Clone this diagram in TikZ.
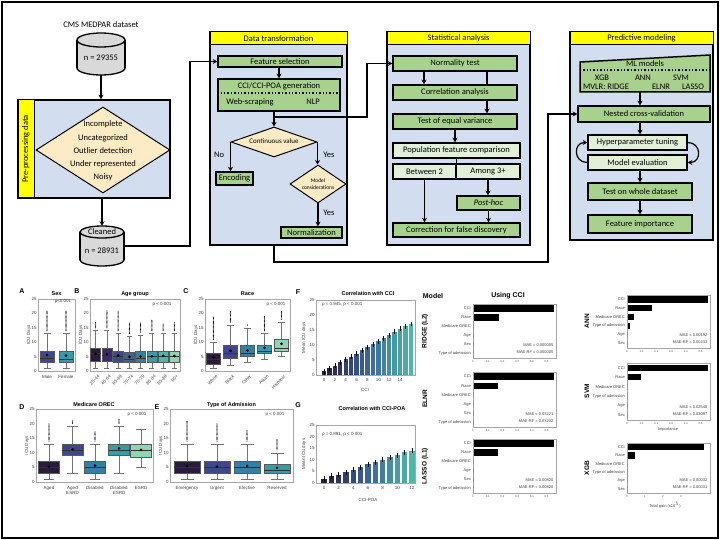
\documentclass[tikz,border=0pt]{standalone}
\usepackage{fontspec}
\setmainfont{Carlito}
\newfontfamily\chartfont{Liberation Sans}
\usetikzlibrary{arrows.meta, positioning, shapes.geometric, calc}
\definecolor{panelblue}{HTML}{D2DDEF}
\definecolor{headyellow}{HTML}{FFFF00}
\definecolor{boxgreen}{HTML}{A9D18E}
\definecolor{palegreen}{HTML}{E2F0D9}
\definecolor{diafill}{HTML}{FDEBC6}
\definecolor{cylgray}{HTML}{D9D9D9}
\definecolor{axisgray}{HTML}{A6A6A6}
\definecolor{mk1}{HTML}{2A1B3A}
\definecolor{mk2}{HTML}{3A2D62}
\definecolor{mk3}{HTML}{3F468C}
\definecolor{mk4}{HTML}{3A639C}
\definecolor{mk5}{HTML}{357FA5}
\definecolor{mk6}{HTML}{369CAA}
\definecolor{mk7}{HTML}{4DB8A9}
\definecolor{mk8}{HTML}{8ED5B6}

% database cylinder: name, x, top, bottom, half width, cap radius
\newcommand{\dbcyl}[6]{%
  \filldraw[fill=cylgray, line width=1.3pt] (#2,#4-#6) ellipse[x radius=#5pt, y radius=#6pt];
  \fill[cylgray] (#2-#5,#3+#6) rectangle (#2+#5,#4-#6);
  \draw[line width=1.3pt] (#2-#5,#3+#6) -- (#2-#5,#4-#6) (#2+#5,#3+#6) -- (#2+#5,#4-#6);
  \filldraw[fill=cylgray, line width=1.3pt] (#2,#3+#6) ellipse[x radius=#5pt, y radius=#6pt];
  \node[inner sep=0pt, minimum width={2*#5}, minimum height={#4-#3}] (#1) at (#2,{(#3+#4)/2}) {};
}
% box plot: x, low, q1, median, q3, high, mean, top outlier, colour
\newcommand{\boxwhisk}[9]{%
  \draw[black!55, line width=0.5pt] (#1,#2) -- (#1,#3) (#1,#5) -- (#1,#6);
  \draw[black!55, line width=0.5pt] ({#1-0.5*\bhw},#2) -- ({#1+0.5*\bhw},#2) ({#1-0.5*\bhw},#6) -- ({#1+0.5*\bhw},#6);
  \filldraw[fill=#9, draw=black!65, line width=0.5pt] ({#1-\bhw},#3) rectangle ({#1+\bhw},#5);
  \draw[black!80, line width=0.5pt] ({#1-\bhw},#4) -- ({#1+\bhw},#4);
  \ifdim #8pt>#6pt
    \pgfmathtruncatemacro\nout{(#8-#6-1)/0.45}
    \foreach \k in {0,...,\nout} \fill ({#1},{#6+1+0.45*\k}) circle[radius=0.6pt];
  \fi
  \fill (#1,#7) circle[radius=1.5pt];
}
% ICU days axes: left, right, prefix
\newcommand{\icuaxes}[3]{%
  \draw[frame] (#1,0) rectangle (#2,25);
  \foreach \t in {0,5,...,25} \node[tick, anchor=east] (#3y\t) at (#1-0.3,\t) {\t};
  \node[tick, rotate=90] (#3lab) at (#1-9,12.5) {ICU Days};
}
% importance chart: name, left, top, bottom, rows, bar lengths, MAE, MAE-RF, ticks
\newcommand{\impchart}[9]{%
  \draw[frame] (#2,#3) rectangle (#2+83,#4);
  \foreach \lbl [count=\i from 0] in {#5}
    \node[rowlbl, anchor=east] (#1r\i) at (#2-1.5,{#3+(#4-#3)*(\i+0.5)/6}) {\lbl};
  \foreach \len [count=\i from 0] in {#6}
    \fill ({#2+0.5},{#3+(#4-#3)*(\i+0.5)/6-3.2}) rectangle ++(\len,6.4);
  \node[rowlbl, anchor=east] (#1mae) at (#2+81,#4-13) {MAE = #7};
  \node[rowlbl, anchor=east] (#1rf) at (#2+81,#4-6) {MAE-RF = #8};
  \foreach \p/\t [count=\j] in #9
    \node[smalltick] (#1t\j) at (#2+\p,#4+3.5) {\t};
}
\def\fracticks{0/0,14.7/0.1,29.4/0.2,44.1/0.3,58.8/0.4,73.5/0.5}
\def\gainticks{0/0,18/1,36/2,54/3}

\begin{document}
\begin{tikzpicture}[x=1pt, y=-1pt, font=\fontsize{8.5}{10}\selectfont,
    panel/.style={draw, line width=1.5pt, fill=panelblue, inner sep=0pt},
    header/.style={draw, line width=1pt, fill=headyellow, inner sep=0pt},
    gbox/.style={draw, line width=1.5pt, fill=boxgreen, inner sep=0pt},
    pbox/.style={gbox, fill=palegreen},
    choice/.style={diamond, draw, line width=1pt, fill=diafill, inner sep=0pt},
    txt/.style={inner sep=0pt},
    link/.style={line width=1.2pt, -{Stealth[length=4.5pt, width=5pt]}},
    wire/.style={line width=1.2pt},
    frame/.style={draw=axisgray, line width=0.5pt},
    tick/.style={font=\chartfont\fontsize{4.5}{5}\selectfont, text=black!75, inner sep=0.8pt},
    rowlbl/.style={font=\chartfont\fontsize{4}{4.5}\selectfont, text=black!75, inner sep=0.5pt},
    smalltick/.style={font=\chartfont\fontsize{2.8}{3}\selectfont, text=black!70, inner sep=0pt},
    ctitle/.style={font=\chartfont\bfseries\fontsize{5.5}{6}\selectfont, inner sep=0pt},
    letter/.style={font=\chartfont\bfseries\fontsize{7}{8}\selectfont, inner sep=0pt},
    model/.style={font=\chartfont\bfseries\fontsize{6.5}{7}\selectfont, inner sep=0pt, rotate=90},
  ]
  \useasboundingbox (0,0) rectangle (720,540);
  \fill[white] (0,0) rectangle (720,540);
  \draw[line width=2.5pt] (2,2) rectangle (718,538);

  % pre-processing
  \node[txt] (medpar) at (101,25) {CMS MEDPAR dataset};
  \dbcyl{srcdb}{101}{33}{75}{24}{7}
  \node[txt] (srcn) at (101,58) {n = 29355};
  \node[panel, minimum width=152pt, minimum height=98pt] (prepanel) at (94,149) {};
  \node[header, minimum width=16pt, minimum height=98pt] (prestrip) at (26,149) {};
  \node[txt, rotate=90] (pretitle) at (26,149) {Pre-processing data};
  \node[choice, minimum width=134pt, minimum height=86pt] (quality) at (103,150) {};
  \node[txt, align=center, font=\fontsize{8.5}{13.2}\selectfont] (qualtxt) at (103,151)
       {Incomplete\\Uncategorized\\Outlier detection\\Under represented\\Noisy};
  \dbcyl{cleandb}{102}{226}{266}{22}{6}
  \node[txt] (cleantxt) at (102,232) {Cleaned};
  \node[txt] (cleann) at (102,251) {n = 28931};
  \draw[link] (srcdb.south) -- (srcdb.south |- prepanel.north);
  \draw[link] (prepanel.south -| cleandb) -- (cleandb.north);

  % data transformation
  \node[panel, minimum width=137pt, minimum height=213pt] (dtpanel) at (278.5,138.5) {};
  \node[header, minimum width=137pt, minimum height=13pt] (dthead) at (278.5,38.5) {Data transformation};
  \node[gbox, minimum width=124pt, minimum height=11pt] (featsel) at (280,61.5) {Feature selection};
  \node[gbox, minimum width=122pt, minimum height=32pt] (ccibox) at (279,95) {};
  \node[txt] (ccitxt) at (279,86) {CCI/CCI-POA generation};
  \draw[dotted, line width=1.4pt] ([yshift=2pt]ccibox.west) -- ([yshift=2pt]ccibox.east);
  \node[txt] (webtxt) at (250,102) {Web-scraping};
  \node[txt] (nlptxt) at (313,102) {NLP};
  \node[choice, minimum width=86pt, minimum height=30pt] (contval) at (274,142) {};
  \node[txt, font=\fontsize{7}{8}\selectfont] (contvaltxt) at (274,141) {Continuous value};
  \node[gbox, minimum width=37pt, minimum height=13pt] (encoding) at (234.5,178.5) {Encoding};
  \node[choice, minimum width=56pt, minimum height=38pt] (modelcons) at (318,184) {};
  \node[txt, align=center, font=\fontsize{5.5}{6.5}\selectfont] (modelconstxt) at (318,184) {Model\\considerations};
  \node[gbox, minimum width=61pt, minimum height=11pt] (normalize) at (311.5,232.5) {Normalization};
  \node[txt] (nolbl) at (219,155) {No};
  \node[txt] (yeslbl) at (329,155) {Yes};
  \node[txt] (yes2lbl) at (329,213) {Yes};
  \draw[link] (featsel.south -| ccibox) -- (ccibox.north);
  \coordinate (ccisplit) at (274,117);
  \draw[wire] (ccibox.south -| contval) -- (ccisplit);
  \draw[link] (ccisplit) -- (contval.north);
  \draw[link] (contval.west) -- (contval.west |- encoding.north);
  \draw[link] (contval.east) -- (contval.east |- modelcons.north);
  \draw[link] (modelcons.south) -- (modelcons.south |- normalize.north);

  % statistical analysis
  \node[panel, minimum width=143pt, minimum height=213pt] (stpanel) at (458.5,138.5) {};
  \node[header, minimum width=143pt, minimum height=13pt] (sthead) at (458.5,38.5) {Statistical analysis};
  \node[gbox, minimum width=124pt, minimum height=15pt] (normal) at (455,63.5) {Normality test};
  \node[gbox, minimum width=124pt, minimum height=15pt] (corr) at (455,92.5) {Correlation analysis};
  \node[gbox, minimum width=124pt, minimum height=15pt] (eqvar) at (455,121.5) {Test of equal variance};
  \node[pbox, minimum width=127pt, minimum height=15pt] (popcomp) at (456.5,150.5) {Population feature comparison};
  \node[pbox, minimum width=63pt, minimum height=15pt] (between) at (424.5,171.5) {Between 2};
  \node[pbox, minimum width=64pt, minimum height=15pt] (among) at (488,171.5) {Among 3+};
  \node[gbox, minimum width=63pt, minimum height=14pt] (posthoc) at (488.5,203) {\textit{Post-hoc}};
  \node[gbox, minimum width=127pt, minimum height=14pt] (fdr) at (456.5,230) {Correction for false discovery};
  \draw[link] ([xshift=-31pt]normal.south) -- ([xshift=-31pt]corr.north);
  \draw[wire] ([xshift=32pt]normal.south) -- ([xshift=32pt]corr.north);
  \draw[link] ([xshift=32pt]corr.south) -- ([xshift=32pt]eqvar.north);
  \draw[link] (eqvar.south) -- (eqvar.south |- popcomp.north);
  \draw[wire] (popcomp.south -| between.east) -- (between.south east);
  \draw[link] (between.south) -- (between.south |- fdr.north);
  \draw[link] (among.south) -- (among.south |- posthoc.north);
  \draw[link] (posthoc.south) -- (posthoc.south |- fdr.north);

  % predictive modeling
  \node[panel, minimum width=143pt, minimum height=208pt] (pmpanel) at (641.5,136) {};
  \node[header, minimum width=143pt, minimum height=13pt] (pmhead) at (641.5,38.5) {Predictive modeling};
  \filldraw[fill=boxgreen, line width=1.5pt] (580,62) -- (710,55) -- (710,92) -- (580,92) -- cycle;
  \node[inner sep=0pt, minimum width=130pt, minimum height=37pt] (mlbox) at (645,73.5) {};
  \node[txt] (mltxt) at (645,63.5) {ML models};
  \draw[dotted, line width=1.4pt] ([yshift=3.5pt]mlbox.west) -- ([yshift=3.5pt]mlbox.east);
  \node[txt] (xgbtxt) at (602,77.5) {XGB};
  \node[txt] (anntxt) at (643,77.5) {ANN};
  \node[txt] (svmtxt) at (681,77.5) {SVM};
  \node[txt] (mvlrtxt) at (606,87) {MVLR: RIDGE};
  \node[txt] (elnrtxt) at (661,87) {ELNR};
  \node[txt] (lassotxt) at (693,87) {LASSO};
  \node[gbox, minimum width=132pt, minimum height=16pt] (nested) at (644,114) {Nested cross-validation};
  \node[pbox, minimum width=99pt, minimum height=15pt] (hyper) at (637.5,142.5) {Hyperparameter tuning};
  \node[pbox, minimum width=99pt, minimum height=15pt] (modeleval) at (637.5,162.5) {Model evaluation};
  \node[gbox, minimum width=104pt, minimum height=17pt] (wholetest) at (640,191.5) {Test on whole dataset};
  \node[gbox, minimum width=104pt, minimum height=18pt] (featimp) at (640,224) {Feature importance};
  \draw[link] ([xshift=-5pt]mlbox.south) -- ([xshift=-5pt]mlbox.south |- nested.north);
  \draw[link] (nested.south -| wholetest) -- (hyper.north -| wholetest);
  \draw[link] (modeleval.west) to[out=180, in=180, looseness=1.8] (hyper.west);
  \draw[link] (hyper.east) to[out=0, in=0, looseness=1.8] (modeleval.east);
  \draw[link] (modeleval.south -| wholetest) -- (wholetest.north);
  \draw[link] (wholetest.south) -- (featimp.north);

  % connectors between stages
  \coordinate (hop1) at (190,100);
  \draw[link] (cleandb.east) -| (hop1) |- (featsel.west);
  \coordinate (hop2) at (367,90);
  \draw[link] (ccisplit) -| (hop2) |- (normal.west);
  \coordinate (hop3) at (548,262);
  \draw[link] (dtpanel.south -| contval) |- (hop3) |- (nested.west);

  % A-C box plots
  \begin{scope}[shift={(0,371)}, y={(0pt,2.88pt)}]
    \icuaxes{38}{75}{sx}
    \node[letter] (pA) at (22,27.8) {A};
    \node[ctitle] (tA) at (56.5,26.7) {Sex};
    \node[tick] (pvA) at (63,24.3) {p<0.001};
    \def\bhw{7}
    \boxwhisk{47}{1}{3}{4.3}{7}{13}{5.6}{21}{mk3}
    \boxwhisk{66}{1}{3}{4}{7}{13}{5.3}{21}{mk6}
    \node[tick, anchor=north] (xA1) at (47,-1) {Male};
    \node[tick, anchor=north] (xA2) at (66,-1) {Female};

    \icuaxes{90}{180}{age}
    \node[letter] (pB) at (77,27.8) {B};
    \node[ctitle] (tB) at (135,26.7) {Age group};
    \node[tick] (pvB) at (162,23.3) {p < 0.001};
    \def\bhw{5}
    \boxwhisk{95.6}{1}{3.5}{6}{8}{14}{6}{17}{mk1}
    \boxwhisk{106.9}{1}{3.5}{5.5}{8}{14}{5.8}{21}{mk2}
    \boxwhisk{118.1}{1}{3}{5}{7}{13}{5.4}{21}{mk3}
    \boxwhisk{129.4}{1}{3}{4}{6.5}{12}{4.9}{17}{mk4}
    \boxwhisk{140.6}{1}{3}{4.5}{7}{12.5}{5}{17}{mk5}
    \boxwhisk{151.9}{1}{3}{5}{7}{13}{5.1}{18}{mk6}
    \boxwhisk{163.1}{1}{3}{5}{7}{13}{5.3}{16.5}{mk7}
    \boxwhisk{174.4}{1}{3}{5}{7}{13}{5.2}{17}{mk8}
    \foreach \lbl [count=\i from 0] in {25-44,45-64,65-69,70-74,75-79,80-84,85-89,90+}
      \node[tick, rotate=45, anchor=north east] (xB\i) at ({95.6+11.25*\i+2},-0.8) {\lbl};

    \icuaxes{205}{290}{race}
    \node[letter] (pC) at (186,27.8) {C};
    \node[ctitle] (tC) at (247.5,26.7) {Race};
    \node[tick] (pvC) at (276,23.3) {p < 0.001};
    \def\bhw{7}
    \boxwhisk{213.5}{1}{2.5}{4}{6}{10}{4.8}{19}{mk1}
    \boxwhisk{230.5}{2}{4.5}{6}{9}{16}{7}{21}{mk3}
    \boxwhisk{247.5}{3}{5}{6}{9}{15}{7.2}{16}{mk5}
    \boxwhisk{264.5}{4}{6}{7}{9}{13}{8}{19}{mk6}
    \boxwhisk{281.5}{5}{7}{8}{11}{17}{9.4}{21}{mk8}
    \foreach \lbl [count=\i from 0] in {White,Black,Other,Asian,Hispanic}
      \node[tick, rotate=45, anchor=north east] (xC\i) at ({213.5+17*\i+2},-0.8) {\lbl};
  \end{scope}

  % D-E box plots
  \begin{scope}[shift={(0,482)}, y={(0pt,2.92pt)}]
    \icuaxes{36}{153}{orec}
    \node[letter] (pD) at (22,25.6) {D};
    \node[ctitle] (tD) at (94,26.4) {Medicare OREC};
    \node[tick] (pvD) at (137,23) {p < 0.001};
    \def\bhw{10.5}
    \boxwhisk{49}{1}{3}{5}{7}{13}{5.3}{20}{mk1}
    \boxwhisk{72.5}{3}{9}{11}{13}{19}{11.2}{21}{mk3}
    \boxwhisk{95}{1}{3}{5}{7}{13}{5.6}{17.5}{mk5}
    \boxwhisk{119}{3}{9}{11}{13}{19}{11.5}{21.5}{mk6}
    \boxwhisk{141}{5}{8.5}{11}{13}{18}{11}{0}{mk8}
    \foreach \x/\lbl [count=\i] in {49/Aged,72.5/Aged\\ESRD,95/Disabled,119/Disabled\\ESRD,141/ESRD}
      \node[tick, anchor=north, align=center] (xD\i) at (\x,-1) {\lbl};

    \icuaxes{170}{293}{adm}
    \node[letter] (pE) at (157,25.6) {E};
    \node[ctitle] (tE) at (231.5,26.4) {Type of Admission};
    \node[tick] (pvE) at (275,23) {p < 0.001};
    \def\bhw{13}
    \boxwhisk{187}{1}{3}{5}{7}{13}{5.4}{21}{mk1}
    \boxwhisk{217}{1}{3}{5}{7}{13}{5.3}{20}{mk3}
    \boxwhisk{247}{1}{3}{5}{7}{13}{5.5}{18}{mk5}
    \boxwhisk{277}{1}{3}{4}{6}{10}{4.8}{15}{mk6}
    \foreach \x/\lbl [count=\i] in {187/Emergency,217/Urgent,247/Elective,277/Reserved}
      \node[tick, anchor=north] (xE\i) at (\x,-1) {\lbl};
  \end{scope}

  % F: mean ICU days per CCI
  \begin{scope}[shift={(0,375)}, y={(0pt,3.0pt)}]
    \draw[frame] (316,0) rectangle (415,25);
    \foreach \t in {0,5,...,25} \node[tick, anchor=east] (fy\t) at (315.7,\t) {\t};
    \node[tick, rotate=90] (flab) at (304,12.5) {Mean ICU days};
    \node[letter] (pF) at (298,27.5) {F};
    \node[ctitle] (tF) at (368,27) {Correlation with CCI};
    \node[tick, anchor=west] (rhoF) at (321,23.5) {ρ = 0.945, p < 0.001};
    \foreach \v [count=\k from 0] in {1.2,2.3,3.1,4.2,5.2,6.1,7.1,8.2,9.3,10.2,11.3,12.3,13.3,14.5,15.4,16.3,17}{
      \pgfmathtruncatemacro\pc{100*\k/16}
      \ifnum\pc<50 \pgfmathtruncatemacro\mixv{2*\pc}\colorlet{barcol}{mk4!\mixv!mk1}%
      \else \pgfmathtruncatemacro\mixv{2*\pc-100}\colorlet{barcol}{mk7!\mixv!mk4}\fi
      \fill[barcol] ({324+5.43*\k-2.2},0) rectangle ({324+5.43*\k+2.2},\v);
      \draw[line width=0.5pt] ({324+5.43*\k},{\v-0.8}) -- ({324+5.43*\k},{\v+0.8});
    }
    \foreach \t in {0,2,...,14} \node[tick, anchor=north] (fx\t) at ({324+5.43*\t},-0.8) {\t};
    \node[tick, anchor=north] (fxlab) at (365,-4) {CCI};
  \end{scope}

  % G: mean ICU days per CCI-POA
  \begin{scope}[shift={(0,483)}, y={(0pt,2.32pt)}]
    \draw[frame] (316,0) rectangle (415,25);
    \foreach \t in {0,5,...,25} \node[tick, anchor=east] (gy\t) at (315.7,\t) {\t};
    \node[tick, rotate=90] (glab) at (304,12.5) {Mean ICU days};
    \node[letter] (pG) at (298,33.6) {G};
    \node[ctitle] (tG) at (372,32.3) {Correlation with CCI-POA};
    \node[tick, anchor=west] (rhoG) at (321,20.8) {ρ = 0.891, p < 0.001};
    \foreach \v [count=\k from 0] in {1.8,3,3.5,4.7,5.8,6.8,8,9,10,11,12,13.2,14}{
      \pgfmathtruncatemacro\pc{100*\k/12}
      \ifnum\pc<50 \pgfmathtruncatemacro\mixv{2*\pc}\colorlet{barcol}{mk4!\mixv!mk1}%
      \else \pgfmathtruncatemacro\mixv{2*\pc-100}\colorlet{barcol}{mk7!\mixv!mk4}\fi
      \fill[barcol] ({324+7.33*\k-2.8},0) rectangle ({324+7.33*\k+2.8},\v);
      \draw[line width=0.5pt] ({324+7.33*\k},{\v-1.1}) -- ({324+7.33*\k},{\v+1.1});
    }
    \foreach \t in {0,2,...,12} \node[tick, anchor=north] (gx\t) at ({324+7.33*\t},-1) {\t};
    \node[tick, anchor=north] (gxlab) at (368,-6) {CCI-POA};
  \end{scope}

  % feature importance per model
  \node[font=\chartfont\bfseries\fontsize{7}{8}\selectfont, inner sep=0pt] (modelhd) at (433,296) {Model};
  \node[font=\chartfont\bfseries\fontsize{7}{8}\selectfont, inner sep=0pt] (usingcci) at (508,296) {Using CCI};
  \node[model] (ridgelbl) at (425,331) {RIDGE (L2)};
  \node[model] (elnrlbl) at (425,399) {ELNR};
  \node[model] (lassolbl) at (425,466) {LASSO (L1)};
  \node[model] (annlbl) at (587,321) {ANN};
  \node[model] (svmlbl) at (587,391) {SVM};
  \node[model] (xgblbl) at (587,468) {XGB};
  \impchart{ridge}{473}{304}{358}{CCI,Race,Medicare OREC,Age,Sex,Type of admission}{80,25,0,0,0,0}{0.000005}{0.000005}{\fracticks}
  \impchart{elnr}{473}{372}{427}{CCI,Race,Medicare OREC,Age,Sex,Type of admission}{80,24,0,0,0,0}{0.03221}{0.03202}{\fracticks}
  \impchart{lasso}{473}{439}{493}{CCI,Race,Medicare OREC,Age,Sex,Type of admission}{80,24,0,0,0,0}{0.00820}{0.00820}{\fracticks}
  \impchart{ann}{627}{295}{348}{CCI,Race,Medicare OREC,Type of admission,Age,Sex}{80,24,6,2,0,0}{0.00192}{0.00233}{\fracticks}
  \impchart{svm}{627}{363}{420}{CCI,Race,Medicare OREC,Type of admission,Age,Sex}{80,13,0,0,0,0}{0.02548}{0.03097}{\fracticks}
  \impchart{xgb}{627}{443}{493}{CCI,Race,Medicare OREC,Type of admission,Age,Sex}{76,7,0,0,0,0}{0.00032}{0.00031}{\gainticks}
  \node[rowlbl] (svmxlab) at (668,430) {Importance};
  \node[rowlbl] (xgbxlab) at (665,505) {Total gain (x10$^{5}$)};
\end{tikzpicture}
\end{document}
